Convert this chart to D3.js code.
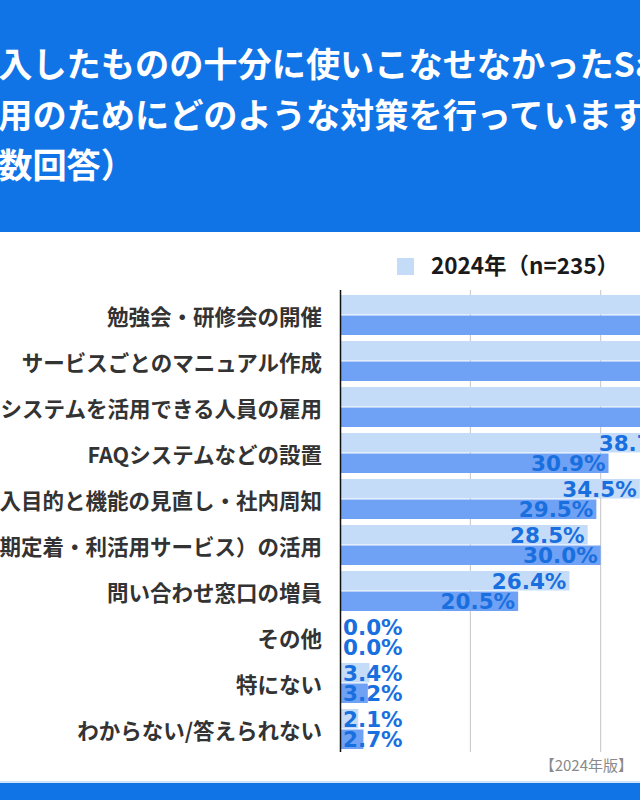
<!DOCTYPE html>
<html>
<head>
<meta charset="utf-8">
<script src="https://cdn.jsdelivr.net/npm/d3@7"></script>
<style>
  html, body { margin: 0; padding: 0; background: #fff; overflow: hidden; }
  svg { display: block; }
</style>
</head>
<body>
<svg id="chart" width="640" height="800"></svg>
<script>
// title lines (chart is cropped on both sides)
var titleLines = [
    "導入したものの十分に使いこなせなかったSaaSの",
    "活用のためにどのような対策を行っていますか？",
    "複数回答）"
];

var categories = [
    "勉強会・研修会の開催",
    "サービスごとのマニュアル作成",
    "システムを活用できる人員の雇用",
    "FAQシステムなどの設置",
    "導入目的と機能の見直し・社内周知",
    "外部支援（初期定着・利活用サービス）の活用",
    "問い合わせ窓口の増員",
    "その他",
    "特にない",
    "わからない/答えられない"
];

var seriesNames = ["2024年（n=235）", "2023年"];

// percent values (first three rows run past the crop, estimated)
var values2024 = [57.4, 50.2, 45.5, 38.7, 34.5, 28.5, 26.4, 0.0, 3.4, 2.1];
var values2023 = [52.3, 47.7, 44.1, 30.9, 29.5, 30.0, 20.5, 0.0, 3.2, 2.7];

var xTicks = [0, 15, 30, 45, 60];

var sourceNote = "【2024年版】";

var colors = ["#c5dcf8", "#6fa1f4"];
var labelColor = "#1a6fdf";

var svg = d3.select("#chart");

// header band
svg.append("rect")
    .attr("x", 0).attr("y", 0)
    .attr("width", 640).attr("height", 232)
    .attr("fill", "#1174e6");

svg.selectAll(".title")
    .data(titleLines)
    .enter()
    .append("text")
    .classed("title", true)
    .attr("x", -36)
    .attr("y", function (d, i) { return 77 + i * 50.5; })
    .attr("fill", "#fff")
    .attr("font-family", "'Noto Sans CJK JP', sans-serif")
    .attr("font-weight", "bold")
    .attr("font-size", 34.2)
    .text(function (d) { return d; });

// scales
var x = d3.scaleLinear().domain([0, 60]).range([340, 861.4]);
var y = d3.scaleBand().domain(categories).range([292, 752]);
var inner = d3.scaleBand().domain([0, 1]).range([3, 43]).paddingInner(0.05);

// gridlines
svg.selectAll(".grid")
    .data(xTicks.slice(1))
    .enter()
    .append("line")
    .classed("grid", true)
    .attr("x1", function (d) { return x(d); })
    .attr("x2", function (d) { return x(d); })
    .attr("y1", 290)
    .attr("y2", 752)
    .attr("stroke", "#c4c4c4")
    .attr("stroke-width", 1);

// legend (only the first item falls inside the crop)
var legend = svg.append("g").attr("transform", "translate(397,258)");
legend.append("rect")
    .attr("width", 17).attr("height", 17)
    .attr("fill", colors[0]);
legend.append("text")
    .attr("x", 34)
    .attr("y", 16)
    .attr("font-family", "'Noto Sans CJK JP', sans-serif")
    .attr("font-weight", "bold")
    .attr("font-size", 22.5)
    .attr("fill", "#1a1a1a")
    .text(seriesNames[0]);

// bars
var rows = categories.map(function (c, i) {
    return { cat: c, vals: [values2024[i], values2023[i]] };
});

var groups = svg.selectAll(".row")
    .data(rows)
    .enter()
    .append("g")
    .classed("row", true)
    .attr("transform", function (d) { return "translate(0," + y(d.cat) + ")"; });

groups.append("text")
    .attr("x", 322)
    .attr("y", y.bandwidth() / 2)
    .attr("text-anchor", "end")
    .attr("dominant-baseline", "central")
    .attr("font-family", "'Noto Sans CJK JP', sans-serif")
    .attr("font-weight", "bold")
    .attr("font-size", 21.5)
    .attr("fill", "#333")
    .text(function (d) { return d.cat; });

var bars = groups.selectAll(".bar")
    .data(function (d) { return d.vals.map(function (v, k) { return { v: v, k: k }; }); })
    .enter();

bars.append("rect")
    .classed("bar", true)
    .attr("x", x(0))
    .attr("y", function (d) { return inner(d.k); })
    .attr("width", function (d) { return x(d.v) - x(0); })
    .attr("height", inner.bandwidth())
    .attr("fill", function (d) { return colors[d.k]; });

var vlabels = bars.append("text")
    .attr("y", function (d) { return inner(d.k) + inner.bandwidth() / 2 + 7.9; })
    .attr("text-anchor", "end")
    .attr("font-family", "'DejaVu Sans', sans-serif")
    .attr("font-weight", "bold")
    .attr("font-size", 21.5)
    .attr("fill", labelColor)
    .text(function (d) { return d.v.toFixed(1) + "%"; });

vlabels.attr("x", function (d) {
    var w = this.getComputedTextLength();
    return Math.max(x(d.v) - 3, x(0) + 3 + w);
});

// axis line
svg.append("line")
    .attr("x1", 340.5).attr("x2", 340.5)
    .attr("y1", 290).attr("y2", 752)
    .attr("stroke", "#111")
    .attr("stroke-width", 1.5);

// source note + footer band
svg.append("text")
    .attr("x", 633)
    .attr("y", 771)
    .attr("text-anchor", "end")
    .attr("font-family", "'Noto Sans CJK JP', sans-serif")
    .attr("font-size", 15)
    .attr("fill", "#8a8a8a")
    .text(sourceNote);

svg.append("rect")
    .attr("x", 0).attr("y", 781)
    .attr("width", 640).attr("height", 2)
    .attr("fill", "#cfe3fa");
svg.append("rect")
    .attr("x", 0).attr("y", 783)
    .attr("width", 640).attr("height", 17)
    .attr("fill", "#1174e6");
</script>
</body>
</html>
